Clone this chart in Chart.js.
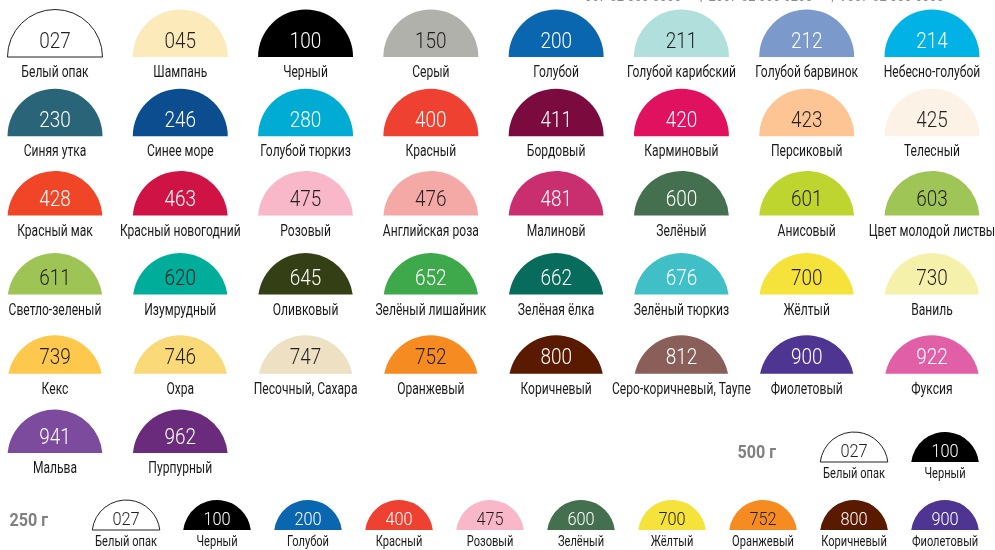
<!DOCTYPE html>
<html>
<head>
<meta charset="utf-8">
<script src="https://cdn.jsdelivr.net/npm/chart.js@4.4.1/dist/chart.umd.min.js"></script>
<style>
  html, body { margin: 0; padding: 0; background: #fff; }
  #wrap { width: 995px; height: 550px; }
</style>
</head>
<body>
<div id="wrap"><canvas id="chart" width="995" height="550"></canvas></div>
<script>
// palette: code, name, swatch colour (8 per row)
const codes = [
  "027", "045", "100", "150", "200", "211", "212", "214",
  "230", "246", "280", "400", "411", "420", "423", "425",
  "428", "463", "475", "476", "481", "600", "601", "603",
  "611", "620", "645", "652", "662", "676", "700", "730",
  "739", "746", "747", "752", "800", "812", "900", "922",
  "941", "962",
];
const names = [
  "Белый опак", "Шампань", "Черный", "Серый", "Голубой", "Голубой карибский", "Голубой барвинок", "Небесно-голубой",
  "Синяя утка", "Синее море", "Голубой тюркиз", "Красный", "Бордовый", "Карминовый", "Персиковый", "Телесный",
  "Красный мак", "Красный новогодний", "Розовый", "Английская роза", "Малиновй", "Зелёный", "Анисовый", "Цвет молодой листвы",
  "Светло-зеленый", "Изумрудный", "Оливковый", "Зелёный лишайник", "Зелёная ёлка", "Зелёный тюркиз", "Жёлтый", "Ваниль",
  "Кекс", "Охра", "Песочный, Сахара", "Оранжевый", "Коричневый", "Серо-коричневый, Таупе", "Фиолетовый", "Фуксия",
  "Мальва", "Пурпурный",
];
const colors = [
  "#ffffff", "#fdeabb", "#000000", "#b1b1ab", "#0b66b0", "#b1dfdb", "#7b9acb", "#00b2e6",
  "#2a6478", "#0b4d8f", "#00acd4", "#ef4131", "#7b0a3f", "#e0125f", "#fdc593", "#fdf2e6",
  "#f04527", "#cf1445", "#f9b8ca", "#f5a9a7", "#c92e6e", "#45704f", "#bed52f", "#9ec555",
  "#9dc454", "#00ad9a", "#343f15", "#3da94a", "#076c5c", "#40bfc6", "#f5e33c", "#f6f1aa",
  "#fec84c", "#f9d978", "#ede0c3", "#f68b21", "#5a1a00", "#8a5f59", "#4e3592", "#e05fa7",
  "#7d4b9e", "#6a2b7d",
];
// codes whose number is printed dark instead of white
const darkText = ["027", "045", "150", "211", "423", "425", "475", "476", "601", "603",
  "611", "620", "700", "730", "739", "746", "747", "752"];

const pack500 = ["027", "100"];
const pack250 = ["027", "100", "200", "400", "475", "600", "700", "752", "800", "900"];
const packLabels = ["500 г", "250 г"];
const phoneLine = ["067-82 000-0000", "/ 2007-82 000-0200", "/ 9007-82 000-0000"];

const COLS = 8;
const lookup = (c) => codes.indexOf(c);

// layout
const MAIN_R = 47.5;
const SMALL_R = 34;
const rowCut = [0, 0, 3, 6, 9, 4];
const FONT = "Roboto, 'Liberation Sans', sans-serif";

function txt(ctx, s, x, y, font, color, sx, align) {
  ctx.save();
  ctx.font = font;
  ctx.fillStyle = color;
  ctx.textAlign = align || "center";
  ctx.textBaseline = "middle";
  ctx.translate(x, y);
  ctx.scale(sx, 1);
  ctx.fillText(s, 0, 0);
  ctx.restore();
}

function swatch(ctx, cx, base, R, cut, code, small) {
  const i = lookup(code);
  const a = Math.asin(cut / R);
  ctx.save();
  ctx.beginPath();
  ctx.arc(cx, base + cut, R, Math.PI + a, 2 * Math.PI - a);
  ctx.closePath();
  ctx.fillStyle = colors[i];
  ctx.fill();
  if (code === "027") {
    ctx.lineWidth = 1;
    ctx.strokeStyle = "#231f20";
    ctx.stroke();
  }
  ctx.restore();
  const numColor = darkText.includes(code) ? "#231f20" : "#ffffff";
  if (small) {
    txt(ctx, code, cx, base - 10, "300 19px " + FONT, numColor, 0.86);
    txt(ctx, names[i], cx, base + 12, "15px " + FONT, "#1a1a1a", 0.74);
  } else {
    txt(ctx, code, cx, base - 15, "300 22px " + FONT, numColor, 0.86);
    txt(ctx, names[i], cx, base + 16, "17px " + FONT, "#1a1a1a", 0.71);
  }
}

const swatchPlugin = {
  id: "swatches",
  afterDatasetsDraw(chart) {
    const ctx = chart.ctx;
    chart.data.datasets.forEach((ds, di) => {
      const meta = chart.getDatasetMeta(di);
      meta.data.forEach((pt, j) => {
        const small = ds.kind !== "main";
        const row = ds.data[j].y;
        const cut = small ? 4 : rowCut[row];
        swatch(ctx, pt.x, pt.y, small ? SMALL_R : MAIN_R, cut, ds.codes[j], small);
      });
      if (ds.kind !== "main") {
        const first = meta.data[0];
        txt(ctx, ds.label, first.x - SMALL_R - 44, first.y - 9, "bold 19px " + FONT, "#808080", 0.85, "right");
      }
    });
    // phone numbers cut off at the top edge
    const x2 = chart.scales.x;
    txt(ctx, phoneLine.join("      "), x2.getPixelForValue(5.66), -3, "16px " + FONT, "#8c8c8c", 0.8);
  },
};

const mainData = codes.map((c, i) => ({ x: i % COLS, y: Math.floor(i / COLS) }));
const data500 = pack500.map((c, i) => ({ x: pack250.length - pack500.length + i, y: 0 }));
const data250 = pack250.map((c, i) => ({ x: i, y: 1 }));

new Chart(document.getElementById("chart"), {
  type: "scatter",
  data: {
    datasets: [
      { label: "main", kind: "main", codes: codes, data: mainData, xAxisID: "x", yAxisID: "y", pointRadius: 0 },
      { label: packLabels[0], kind: "pack", codes: pack500, data: data500, xAxisID: "x2", yAxisID: "y2", pointRadius: 0 },
      { label: packLabels[1], kind: "pack", codes: pack250, data: data250, xAxisID: "x2", yAxisID: "y2", pointRadius: 0 },
    ],
  },
  options: {
    responsive: false,
    animation: false,
    events: [],
    layout: { padding: 0 },
    plugins: { legend: { display: false }, tooltip: { enabled: false } },
    scales: {
      x: { type: "linear", display: false, min: -0.439, max: 7.503 },
      y: { type: "linear", display: false, reverse: true, min: -0.7197, max: 6.2247 },
      x2: { type: "linear", display: false, min: -1.385, max: 9.549 },
      y2: { type: "linear", display: false, reverse: true, min: -6.794, max: 1.294 },
    },
  },
  plugins: [swatchPlugin],
});
</script>
</body>
</html>
